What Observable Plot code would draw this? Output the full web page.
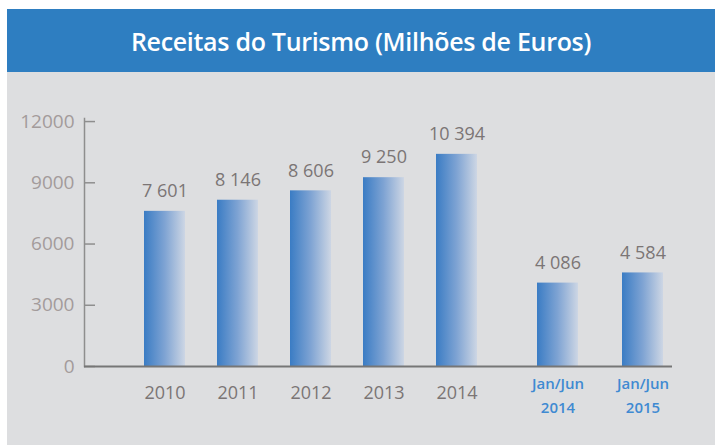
<!DOCTYPE html>
<html><head><meta charset="utf-8">
<script src="https://cdn.jsdelivr.net/npm/d3@7"></script>
<script src="https://cdn.jsdelivr.net/npm/@observablehq/plot@0.6"></script>
<style>
body{margin:0;background:#fff;font-family:"Open Sans",sans-serif;}
#wrap{position:absolute;left:7px;top:9px;width:708px;}
#title{height:63px;background:#2e7ec1;color:#fff;font-size:25px;font-weight:600;display:flex;align-items:center;justify-content:center;letter-spacing:-0.3px;}
#chart{background:#dddee0;height:373px;}
#chart svg{display:block;}
</style></head><body>
<div id="wrap"><div id="title">Receitas do Turismo (Milhões de Euros)</div><div id="chart"></div></div>
<script>
const categories = ["2010", "2011", "2012", "2013", "2014", "Jan/Jun\n2014", "Jan/Jun\n2015"];
const values = [7601, 8146, 8606, 9250, 10394, 4086, 4584];
const kinds = ["ano", "ano", "ano", "ano", "ano", "sem", "sem"];
const yTicks = [0, 3000, 6000, 9000, 12000];

const data = categories.map((c, i) => ({cat: c, value: values[i], kind: kinds[i]}));
const annual = data.filter(d => d.kind === "ano");
const sem = data.filter(d => d.kind === "sem");
const semDx = [25, 37];
const fmt = v => d3.format(",")(v).replace(/,/g, " ");

const marks = [
  Plot.frame({anchor: "left", stroke: "#8e8e8e", strokeWidth: 1.5}),
  Plot.axisY({ticks: yTicks, tickSize: 0, tickPadding: 10, fontSize: 19, color: "#a39b9b", tickFormat: d3.format("d"), label: null}),
  Plot.axisY({ticks: yTicks, tickSize: -11, tickFormat: () => "", stroke: "#8e8e8e", strokeWidth: 1.5, label: null}),
  Plot.barY(annual, {x: "cat", y: "value", fill: "url(#barGrad)", dx: -3}),
  Plot.text(annual, {x: "cat", y: "value", text: d => fmt(d.value), dy: -20, dx: -3, fontSize: 18, fill: "#7b7575"}),
  Plot.text(annual, {x: "cat", frameAnchor: "bottom", lineAnchor: "middle", text: "cat", dy: 27, dx: -3, fontSize: 18, fill: "#7b7575"})
];
sem.forEach((d, i) => {
  marks.push(
    Plot.barY([d], {x: "cat", y: "value", fill: "url(#barGrad)", dx: semDx[i]}),
    Plot.text([d], {x: "cat", y: "value", text: e => fmt(e.value), dy: -20, dx: semDx[i], fontSize: 18, fill: "#7b7575"}),
    Plot.text([d], {x: "cat", frameAnchor: "bottom", lineAnchor: "middle", text: "cat", dy: 27, dx: semDx[i], fontSize: 15, fontWeight: 600, lineHeight: 1.6, fill: "#3f8ad2"})
  );
});
marks.push(Plot.ruleY([0], {stroke: "#767676", strokeWidth: 2}));

const chart = Plot.plot({
  width: 708,
  height: 373,
  marginLeft: 77,
  marginRight: 43,
  marginTop: 46,
  marginBottom: 79,
  style: {background: "transparent", fontFamily: "Open Sans", overflow: "visible"},
  x: {type: "band", domain: categories, paddingInner: 0.44, paddingOuter: 0.7065, align: 0.574, axis: null},
  y: {domain: [0, 12150], axis: null},
  marks
});
const defs = d3.select(chart).insert("defs", ":first-child");
const g = defs.append("linearGradient").attr("id", "barGrad").attr("x1", 0).attr("x2", 1).attr("y1", 0).attr("y2", 0);
g.append("stop").attr("offset", "0%").attr("stop-color", "#3a7cc4");
g.append("stop").attr("offset", "50%").attr("stop-color", "#7ea3d3");
g.append("stop").attr("offset", "100%").attr("stop-color", "#cdd6e4");
document.getElementById("chart").appendChild(chart);
</script>
</body></html>
